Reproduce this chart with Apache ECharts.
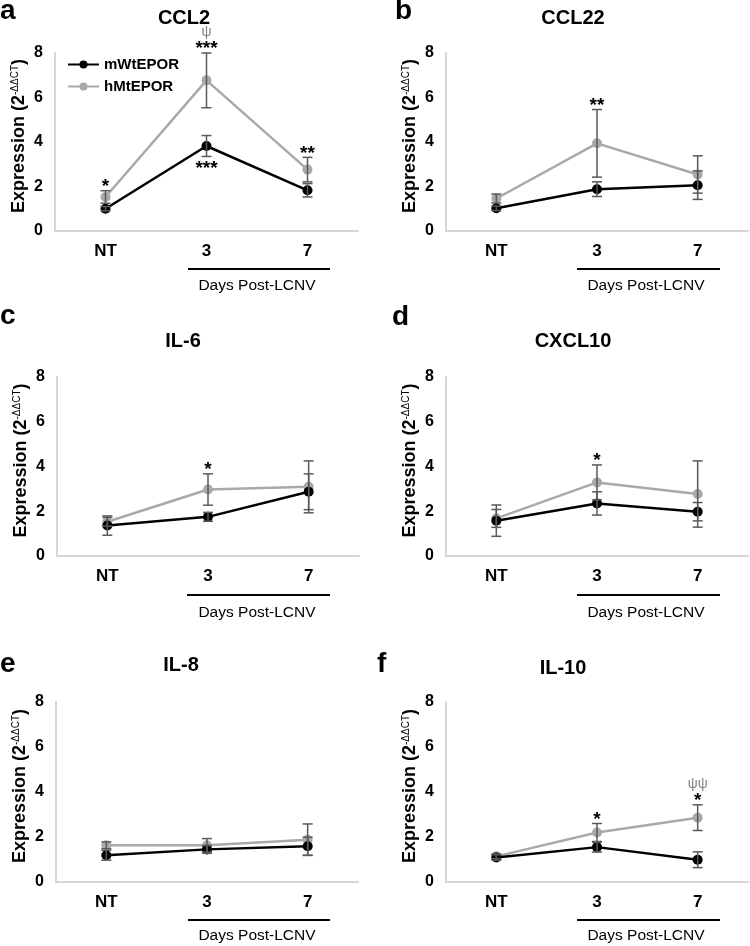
<!DOCTYPE html>
<html><head><meta charset="utf-8">
<script src="https://cdn.jsdelivr.net/npm/echarts@6/dist/echarts.min.js"></script>
<style>html,body{margin:0;padding:0;background:#fff}#c{width:750px;height:946px}</style>
</head><body><div id="c"></div><script>
// ---- data ----
const categories = ['NT', '3', '7'];
const yTicks = [0, 2, 4, 6, 8];
const panelLetters = ['a', 'b', 'c', 'd', 'e', 'f'];
const panelTitles = ['CCL2', 'CCL22', 'IL-6', 'CXCL10', 'IL-8', 'IL-10'];
const seriesNames = ['mWtEPOR', 'hMtEPOR'];

const ccl2_mWt = [1.00, 3.82, 1.83];   const ccl2_mWtErr = [0.10, 0.47, 0.30];
const ccl2_hMt = [1.53, 6.77, 2.76];   const ccl2_hMtErr = [0.28, 1.23, 0.55];
const ccl22_mWt = [1.02, 1.88, 2.06];  const ccl22_mWtErr = [0.10, 0.33, 0.64];
const ccl22_hMt = [1.46, 3.94, 2.54];  const ccl22_hMtErr = [0.20, 1.52, 0.84];
const il6_mWt = [1.36, 1.75, 2.87];    const il6_mWtErr = [0.43, 0.20, 0.80];
const il6_hMt = [1.53, 2.97, 3.09];    const il6_hMtErr = [0.20, 0.70, 1.16];
const cxcl10_mWt = [1.58, 2.35, 1.98]; const cxcl10_mWtErr = [0.70, 0.52, 0.41];
const cxcl10_hMt = [1.68, 3.29, 2.77]; const cxcl10_hMtErr = [0.40, 0.78, 1.48];
const il8_mWt = [1.19, 1.45, 1.59];    const il8_mWtErr = [0.22, 0.17, 0.40];
const il8_hMt = [1.63, 1.63, 1.88];    const il8_hMtErr = [0.15, 0.30, 0.70];
const il10_mWt = [1.09, 1.55, 0.99];   const il10_mWtErr = [0.12, 0.22, 0.35];
const il10_hMt = [1.14, 2.20, 2.86];   const il10_hMtErr = [0.10, 0.40, 0.57];

// significance marks: [category, series, side, text]
const ccl2_notes = [['NT','hMt','above','*'], ['3','hMt','above','***'], ['3','hMt','above2','ψ'], ['3','mWt','below','***'], ['7','hMt','above','**']];
const ccl22_notes = [['3','hMt','above','**']];
const il6_notes = [['3','hMt','above','*']];
const cxcl10_notes = [['3','hMt','above','*']];
const il8_notes = [];
const il10_notes = [['3','hMt','above','*'], ['7','hMt','above','*'], ['7','hMt','above2','ψψ']];

const bracketLabel = 'Days Post-LCNV';

// ---- build ----
const panels = [
  {mWt: ccl2_mWt, mWtErr: ccl2_mWtErr, hMt: ccl2_hMt, hMtErr: ccl2_hMtErr, notes: ccl2_notes},
  {mWt: ccl22_mWt, mWtErr: ccl22_mWtErr, hMt: ccl22_hMt, hMtErr: ccl22_hMtErr, notes: ccl22_notes},
  {mWt: il6_mWt, mWtErr: il6_mWtErr, hMt: il6_hMt, hMtErr: il6_hMtErr, notes: il6_notes},
  {mWt: cxcl10_mWt, mWtErr: cxcl10_mWtErr, hMt: cxcl10_hMt, hMtErr: cxcl10_hMtErr, notes: cxcl10_notes},
  {mWt: il8_mWt, mWtErr: il8_mWtErr, hMt: il8_hMt, hMtErr: il8_hMtErr, notes: il8_notes},
  {mWt: il10_mWt, mWtErr: il10_mWtErr, hMt: il10_hMt, hMtErr: il10_hMtErr, notes: il10_notes}
];

const FONT = 'Liberation Sans, Arial, sans-serif';
const GRAY = '#a9a9a9';
const ERR = '#595959';
const AXIS = '#d6d6d6';

const gridBoxes = [
  {left: 55, top: 53, width: 303, height: 178},
  {left: 446, top: 53, width: 302, height: 178},
  {left: 57, top: 377, width: 302, height: 179},
  {left: 446, top: 377, width: 302, height: 179},
  {left: 56, top: 702, width: 302, height: 180},
  {left: 446, top: 702, width: 302, height: 180}
];
const letterPos = [[0, 12], [395, 12], [0, 317], [392, 318], [0, 665], [377, 665]];
const titlePos = [[184, 18], [573, 18], [183, 341], [573, 341], [181, 665], [563, 668]];
const bracketPos = [[188, 330, 269, 257, 286], [577, 720, 269, 646, 286], [187, 330, 595, 257, 613], [577, 720, 595, 646, 613], [188, 330, 920, 257, 936], [577, 720, 920, 646, 936]];

function errRender(params, api) {
  const x = api.value(0), m = api.value(1), e = api.value(2);
  const t = api.coord([x, m + e]), b = api.coord([x, m - e]);
  const w = 5;
  const st = {stroke: ERR, lineWidth: 1.5};
  return {type: 'group', children: [
    {type: 'line', shape: {x1: t[0], y1: t[1], x2: b[0], y2: b[1]}, style: st},
    {type: 'line', shape: {x1: t[0] - w, y1: t[1], x2: t[0] + w, y2: t[1]}, style: st},
    {type: 'line', shape: {x1: b[0] - w, y1: b[1], x2: b[0] + w, y2: b[1]}, style: st}
  ]};
}

const grid = [], xAxis = [], yAxis = [], series = [], graphic = [];
panels.forEach((p, i) => {
  grid.push(Object.assign({containLabel: false}, gridBoxes[i]));
  xAxis.push({
    type: 'category', gridIndex: i, data: categories, boundaryGap: true,
    axisLine: {lineStyle: {color: AXIS, width: 2}}, axisTick: {show: false},
    axisLabel: {fontFamily: FONT, fontWeight: 'bold', fontSize: 17, color: '#000', margin: 12}
  });
  yAxis.push({
    type: 'value', gridIndex: i, min: yTicks[0], max: yTicks[yTicks.length - 1], interval: yTicks[1] - yTicks[0],
    axisLine: {show: true, lineStyle: {color: AXIS, width: 2}}, axisTick: {show: false}, splitLine: {show: false},
    axisLabel: {fontFamily: FONT, fontWeight: 'bold', fontSize: 16, color: '#000', margin: 12},
    name: '{b|Expression (2}{s|-ΔΔCT}{b|)}', nameLocation: 'middle', nameGap: 27, nameRotate: 90,
    nameTextStyle: {padding: [0, 0, 0, 12], rich: {
      b: {fontFamily: FONT, fontWeight: 'bold', fontSize: 18, color: '#000'},
      s: {fontFamily: FONT, fontSize: 10, color: '#000', verticalAlign: 'top'}
    }}
  });
  const mk = (arr) => arr.map((v, k) => [k, v]);
  series.push({
    name: seriesNames[1], type: 'line', xAxisIndex: i, yAxisIndex: i, data: mk(p.hMt),
    color: GRAY, lineStyle: {color: GRAY, width: 2.5}, itemStyle: {color: GRAY},
    symbol: 'circle', symbolSize: 10, z: 2, animation: false
  });
  series.push({
    type: 'custom', xAxisIndex: i, yAxisIndex: i, renderItem: errRender, z: 4, animation: false,
    data: p.hMt.map((v, k) => [k, v, p.hMtErr[k]])
  });
  series.push({
    name: seriesNames[0], type: 'line', xAxisIndex: i, yAxisIndex: i, data: mk(p.mWt),
    color: '#000', lineStyle: {color: '#000', width: 2.5}, itemStyle: {color: '#000'},
    symbol: 'circle', symbolSize: 10, z: 3, animation: false
  });
  series.push({
    type: 'custom', xAxisIndex: i, yAxisIndex: i, renderItem: errRender, z: 4, animation: false,
    data: p.mWt.map((v, k) => [k, v, p.mWtErr[k]])
  });
  const notes = p.notes;
  series.push({
    type: 'custom', xAxisIndex: i, yAxisIndex: i, z: 5, animation: false, silent: true,
    data: notes.map(n => {
      const k = categories.indexOf(n[0]);
      const m = n[1] === 'hMt' ? p.hMt[k] : p.mWt[k];
      const e = n[1] === 'hMt' ? p.hMtErr[k] : p.mWtErr[k];
      return [k, n[2] === 'below' ? m - e : m + e];
    }),
    renderItem: function (params, api) {
      const n = notes[params.dataIndex];
      const c = api.coord([api.value(0), api.value(1)]);
      const isPsi = n[2] === 'above2';
      let y;
      if (n[2] === 'above') y = c[1] - 4;
      else if (n[2] === 'below') y = c[1] + 12;
      else y = c[1] - 21;
      return {type: 'text', style: {
        text: n[3], x: c[0], y: y, align: 'center', verticalAlign: 'middle',
        font: isPsi ? ('14px ' + FONT) : ('bold 19px ' + FONT),
        fill: isPsi ? '#808080' : '#000'
      }};
    }
  });
  graphic.push({type: 'text', left: letterPos[i][0], top: letterPos[i][1] - 15,
    style: {text: panelLetters[i], font: 'bold 28px ' + FONT, fill: '#000'}});
  graphic.push({type: 'text', x: titlePos[i][0], y: titlePos[i][1],
    style: {text: panelTitles[i], font: 'bold 20px ' + FONT, fill: '#000', align: 'center', verticalAlign: 'middle'}});
  const bp = bracketPos[i];
  graphic.push({type: 'line', shape: {x1: bp[0], y1: bp[2], x2: bp[1], y2: bp[2]}, style: {stroke: '#000', lineWidth: 2}});
  graphic.push({type: 'text', x: bp[3], y: bp[4],
    style: {text: bracketLabel, font: '15.5px ' + FONT, fill: '#000', align: 'center', verticalAlign: 'middle'}});
});

const chart = echarts.init(document.getElementById('c'), null, {renderer: 'canvas'});
chart.setOption({
  backgroundColor: '#fff',
  animation: false,
  grid, xAxis, yAxis, series, graphic,
  legend: {
    data: seriesNames, orient: 'vertical', left: 62, top: 52, itemWidth: 31, itemHeight: 10, itemGap: 7,
    textStyle: {fontFamily: FONT, fontWeight: 'bold', fontSize: 15, color: '#000'}
  }
});
</script></body></html>
